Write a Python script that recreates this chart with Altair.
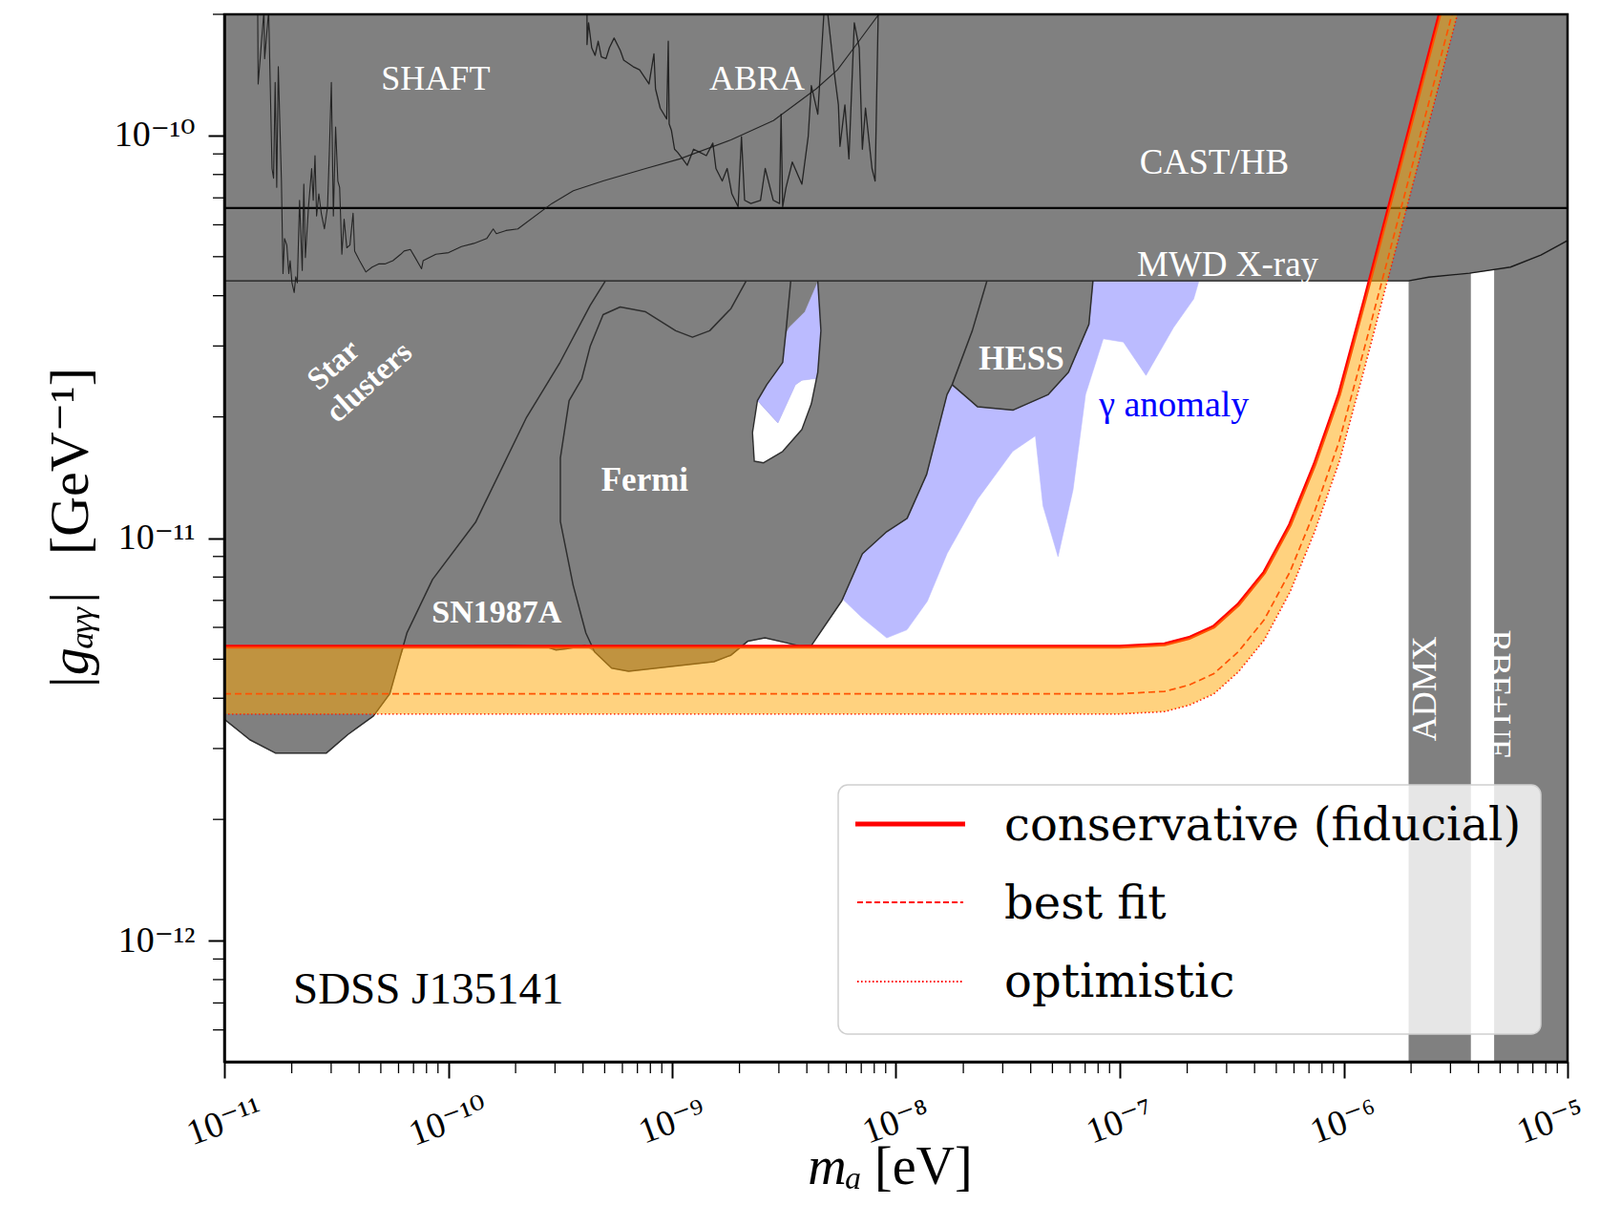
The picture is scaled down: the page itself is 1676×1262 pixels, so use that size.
import numpy as np
import pandas as pd
import altair as alt

# ---------------- layout / style ----------------
W, H = 1407, 1097
SERIF = "Liberation Serif, DejaVu Serif, serif"
WIDE_SERIF = "DejaVu Serif, Liberation Serif, serif"
GRAY = "#808080"
PURPLE = "#bbbbff"
EDGE = "#2e2e2e"

# ---------------- axis ticks ----------------
x_ticks = [1e-11, 1e-10, 1e-9, 1e-8, 1e-7, 1e-6, 1e-5]
x_exps = [-11, -10, -9, -8, -7, -6, -5]
y_ticks = [1e-12, 1e-11, 1e-10]
y_exps = [-12, -11, -10]
x_minor = [k * 10.0 ** e for e in range(-11, -5) for k in range(2, 10)]
y_minor = [k * 10.0 ** e for e in range(-13, -9) for k in range(2, 10)
           if 5e-13 < k * 10.0 ** e <= 2e-10]

# ---------------- data (log10 m_a [eV], log10 g [GeV^-1]) ----------------
# union of grey excluded regions (lower envelope, then closed over the top)
gray_logm = [-11.0, -10.886, -10.772, -10.544, -10.448, -10.334, -10.261, -10.216, -10.198, -9.723,
             -9.564, -9.518, -9.473, -9.386, -9.346, -9.270, -9.194, -9.004, -8.813, -8.737,
             -8.661, -8.585, -8.490, -8.432, -8.378, -8.242, -8.150, -8.041, -7.950, -7.863,
             -7.772, -7.749, -7.635, -7.476, -7.321, -7.229, -7.138, -7.120, -5.711, -5.620,
             -5.438, -5.255, -5.119, -5.0, -5.0, -11.0]
gray_logg = [-11.450, -11.501, -11.534, -11.534, -11.488, -11.442, -11.387, -11.298, -11.270, -11.267,
             -11.270, -11.278, -11.275, -11.267, -11.283, -11.323, -11.331, -11.319, -11.307, -11.291,
             -11.256, -11.248, -11.260, -11.268, -11.267, -11.156, -11.039, -10.984, -10.951, -10.842,
             -10.644, -10.619, -10.674, -10.682, -10.644, -10.588, -10.469, -10.361, -10.361, -10.352,
             -10.342, -10.327, -10.297, -10.261, -9.65, -9.65]

# gamma-ray anomaly region
purple_logm = [-8.243, -8.153, -8.041, -7.951, -7.860, -7.771, -7.636, -7.479, -7.377, -7.343,
               -7.276, -7.209, -7.153, -7.074, -6.984, -6.883, -6.760, -6.670, -6.647, -6.647,
               -7.9, -8.0, -8.3]
purple_logg = [-11.149, -11.197, -11.248, -11.228, -11.157, -11.038, -10.904, -10.785, -10.746, -10.920,
               -11.046, -10.880, -10.643, -10.505, -10.513, -10.596, -10.477, -10.406, -10.362, -10.30,
               -10.30, -10.7, -11.1]

# hole inside the Fermi exclusion
hole_white_logm = [-8.605, -8.619, -8.641, -8.633, -8.591, -8.506, -8.420, -8.378, -8.356, -8.363,
                   -8.420, -8.449, -8.527]
hole_white_logg = [-10.667, -10.659, -10.738, -10.809, -10.813, -10.785, -10.730, -10.667, -10.606, -10.604,
                   -10.608, -10.619, -10.714]
hole_purple_logm = [-8.619, -8.577, -8.506, -8.491, -8.477, -8.406, -8.349, -8.335, -8.349, -8.356,
                    -8.363, -8.420, -8.449, -8.527, -8.605]
hole_purple_logg = [-10.659, -10.619, -10.564, -10.493, -10.477, -10.438, -10.364, -10.485, -10.588, -10.606,
                    -10.604, -10.608, -10.619, -10.714, -10.667]
hole_edge_logm = [-8.470, -8.491, -8.506, -8.577, -8.619, -8.641, -8.633, -8.591, -8.506, -8.420,
                  -8.378, -8.349, -8.335, -8.349]
hole_edge_logg = [-10.362, -10.485, -10.564, -10.619, -10.659, -10.738, -10.809, -10.813, -10.785, -10.730,
                  -10.667, -10.588, -10.485, -10.362]

# outlines
star_logm = [-11.0, -10.886, -10.772, -10.544, -10.448, -10.334, -10.261, -10.184, -10.070, -9.878,
             -9.650, -9.500, -9.366, -9.299]
star_logg = [-11.450, -11.501, -11.534, -11.534, -11.488, -11.442, -11.387, -11.235, -11.103, -10.961,
             -10.700, -10.563, -10.422, -10.362]
sn_logm = [-10.198, -9.723, -9.564, -9.518, -9.473, -9.386]
sn_logg = [-11.270, -11.267, -11.270, -11.278, -11.275, -11.267]
fermi_logm = [-8.670, -8.737, -8.832, -8.909, -8.984, -9.118, -9.232, -9.308, -9.366, -9.403,
              -9.460, -9.499, -9.499, -9.442, -9.385, -9.346, -9.270, -9.194, -9.004, -8.813,
              -8.737, -8.661, -8.585, -8.490, -8.432, -8.378, -8.242, -8.150, -8.041, -7.950,
              -7.863, -7.772, -7.749, -7.659, -7.594]
fermi_logg = [-10.362, -10.430, -10.485, -10.501, -10.485, -10.438, -10.426, -10.445, -10.524, -10.604,
              -10.659, -10.801, -10.959, -11.117, -11.236, -11.283, -11.323, -11.331, -11.319, -11.307,
              -11.291, -11.256, -11.248, -11.260, -11.268, -11.267, -11.156, -11.039, -10.984, -10.951,
              -10.842, -10.644, -10.619, -10.485, -10.362]
hess_logm = [-7.749, -7.635, -7.476, -7.321, -7.229, -7.138, -7.120]
hess_logg = [-10.619, -10.674, -10.682, -10.644, -10.588, -10.469, -10.361]
mwd_logm = [-11.0, -5.711, -5.620, -5.438, -5.255, -5.119, -5.0]
mwd_logg = [-10.361, -10.361, -10.352, -10.342, -10.327, -10.297, -10.261]
cast_logm = [-11.0, -5.0]
cast_logg = [-10.18, -10.18]

# haloscope bands
haloscope_lo = [1.95e-6, 4.7e-6]      # ADMX, RBF+UF
haloscope_hi = [3.7e-6, 1e-5]

# SHAFT and ABRA limit curves
shaft_logm = [-10.851, -10.849, -10.823, -10.820, -10.802, -10.787, -10.780, -10.773, -10.766, -10.759,
              -10.745, -10.738, -10.731, -10.721, -10.712, -10.706, -10.698, -10.688, -10.681, -10.674,
              -10.664, -10.652, -10.645, -10.638, -10.624, -10.610, -10.603, -10.595, -10.588, -10.578,
              -10.567, -10.553, -10.539, -10.531, -10.522, -10.513, -10.503, -10.493, -10.485, -10.475,
              -10.465, -10.453, -10.439, -10.425, -10.418, -10.396, -10.368, -10.340, -10.311, -10.283,
              -10.247, -10.212, -10.197, -10.169, -10.148, -10.119, -10.112, -10.055, -9.998, -9.941,
              -9.885, -9.828, -9.799, -9.785, -9.742, -9.689, -9.537, -9.441, -9.308, -9.118,
              -8.965, -8.737, -8.547, -8.356, -8.261, -8.166, -8.070, -8.040]
shaft_logg = [-9.69, -9.872, -9.69, -9.809, -9.69, -10.082, -10.106, -9.868, -10.129, -9.829,
              -10.113, -10.343, -10.256, -10.272, -10.343, -10.311, -10.366, -10.390, -10.351, -10.366,
              -10.161, -10.335, -10.121, -10.303, -10.177, -10.082, -10.161, -10.050, -10.200, -10.145,
              -10.193, -10.232, -10.177, -10.042, -9.868, -10.200, -9.979, -10.113, -10.129, -10.295,
              -10.208, -10.279, -10.272, -10.193, -10.287, -10.311, -10.339, -10.327, -10.319, -10.319,
              -10.311, -10.295, -10.287, -10.283, -10.303, -10.331, -10.311, -10.295, -10.291, -10.276,
              -10.268, -10.256, -10.232, -10.244, -10.236, -10.232, -10.169, -10.137, -10.113, -10.082,
              -10.058, -10.011, -9.963, -9.884, -9.837, -9.766, -9.694, -9.67]
abra_logm = [-9.380, -9.380, -9.373, -9.359, -9.344, -9.330, -9.316, -9.295, -9.280, -9.259,
             -9.231, -9.216, -9.174, -9.145, -9.103, -9.081, -9.074, -9.053, -9.024, -9.017,
             -9.013, -9.003, -8.989, -8.975, -8.953, -8.932, -8.904, -8.875, -8.847, -8.818,
             -8.804, -8.776, -8.754, -8.733, -8.705, -8.690, -8.676, -8.648, -8.605, -8.584,
             -8.548, -8.520, -8.513, -8.506, -8.491, -8.463, -8.420, -8.392, -8.378, -8.349,
             -8.321, -8.306, -8.278, -8.257, -8.250, -8.228, -8.210, -8.186, -8.164, -8.150,
             -8.136, -8.107, -8.093, -8.079]
abra_logg = [-9.69, -9.774, -9.72, -9.782, -9.801, -9.766, -9.805, -9.809, -9.782, -9.758,
             -9.789, -9.813, -9.829, -9.837, -9.872, -9.797, -9.884, -9.932, -9.959, -9.766,
             -9.971, -9.987, -10.034, -10.042, -10.058, -10.074, -10.034, -10.042, -10.050, -10.019,
             -10.082, -10.113, -10.082, -10.145, -10.177, -10.003, -10.161, -10.169, -10.161, -10.082,
             -10.161, -10.169, -9.947, -10.177, -10.129, -10.066, -10.121, -10.003, -9.876, -9.947,
             -9.69, -9.69, -9.833, -9.924, -10.027, -9.924, -10.058, -9.72, -9.782, -10.034,
             -9.932, -10.082, -10.113, -9.69]

# SDSS J135141 limits
lim_logm = [-11.0, -7.0, -6.94, -6.80, -6.69, -6.58, -6.47, -6.355, -6.24, -6.13,
            -6.02, -5.905, -5.79, -5.68, -5.57, -5.4]
cons_logg = [-11.27, -11.27, -11.268, -11.264, -11.248, -11.22, -11.165, -11.086, -10.967, -10.817,
             -10.643, -10.406, -10.162, -9.929, -9.696, -9.336]
best_logg = [-11.387, -11.387, -11.385, -11.381, -11.365, -11.337, -11.282, -11.203, -11.084, -10.934,
             -10.760, -10.523, -10.279, -10.046, -9.813, -9.453]
opt_logg = [-11.437, -11.437, -11.435, -11.431, -11.415, -11.387, -11.332, -11.253, -11.134, -10.984,
            -10.810, -10.573, -10.329, -10.096, -9.863, -9.503]

# ---------------- scales / axes ----------------
SUP = str.maketrans("-0123456789", "⁻⁰¹²³⁴⁵⁶⁷⁸⁹")


def label_expr(exps):
    s = ""
    for e in exps[:-1]:
        s += f"datum.value < {10.0 ** (e + 0.5):.4e} ? '10{str(e).translate(SUP)}' : "
    return s + f"'10{str(exps[-1]).translate(SUP)}'"


xs = alt.Scale(type="log", domain=[1e-11, 1e-5], nice=False)
ys = alt.Scale(type="log", domain=[5e-13, 2e-10], nice=False)

x_axis = alt.Axis(values=x_ticks, labelExpr=label_expr(x_exps), title=None, grid=False,
                  tickSize=17, tickWidth=2, tickColor="black", domainColor="black", domainWidth=2.5,
                  labelFont=SERIF, labelFontSize=38, labelColor="black", labelAngle=340,
                  labelAlign="center", labelBaseline="middle", labelPadding=46,
                  labelOffset={"condition": {"test": "datum.value > 5e-6", "value": -18}, "value": 0},
                  labelOverlap=False, labelFlush=False, zindex=2)
y_axis = alt.Axis(values=y_ticks, labelExpr=label_expr(y_exps), title=None, grid=False,
                  tickSize=17, tickWidth=2, tickColor="black", domainColor="black", domainWidth=2.5,
                  labelFont=SERIF, labelFontSize=38, labelColor="black", labelAlign="right",
                  labelBaseline="middle", labelPadding=14, labelOverlap=False, labelFlush=False,
                  zindex=2)


def X(f="m"):
    return alt.X(f"{f}:Q", scale=xs, axis=x_axis)


def Y(f="g"):
    return alt.Y(f"{f}:Q", scale=ys, axis=y_axis)


def XD(v):
    return alt.XDatum(v, type="quantitative", scale=xs, axis=x_axis)


def YD(v):
    return alt.YDatum(v, type="quantitative", scale=ys, axis=y_axis)


def frame(logm, logg):
    return pd.DataFrame({"i": np.arange(len(logm)),
                         "m": 10.0 ** np.asarray(logm, dtype=float),
                         "g": 10.0 ** np.asarray(logg, dtype=float)})


def polygon(logm, logg, color, opacity=1.0):
    return alt.Chart(frame(logm, logg)).mark_line(
        fill=color, fillOpacity=opacity, stroke=color, strokeWidth=0.6, clip=True
    ).encode(x=X(), y=Y(), order="i:Q")


def edge(logm, logg, color=EDGE, width=1.5, dash=None, opacity=1.0):
    kw = dict(color=color, strokeWidth=width, clip=True, strokeJoin="round", opacity=opacity)
    if dash:
        kw["strokeDash"] = dash
    return alt.Chart(frame(logm, logg)).mark_line(**kw).encode(x=X(), y=Y(), order="i:Q")


one = pd.DataFrame({"k": [0]})


def label(text, m, g, size, color="white", weight="normal", angle=0, align="center", style="normal"):
    return alt.Chart(one).mark_text(
        text=text, font=SERIF, fontSize=size, color=color, fontWeight=weight, angle=angle,
        align=align, baseline="middle", fontStyle=style
    ).encode(x=XD(m), y=YD(g))


def ptext(text, px, py, size, color="black", align="left", baseline="alphabetic", angle=0,
          style="normal", font=SERIF):
    return alt.Chart(one).mark_text(
        text=text, font=font, fontSize=size, color=color, align=align, baseline=baseline,
        angle=angle, fontStyle=style
    ).encode(x=alt.value(px), y=alt.value(py))


# ---------------- layers ----------------
layers = []
layers.append(polygon(purple_logm, purple_logg, PURPLE))

bars = pd.DataFrame({"m1": haloscope_lo, "m2": haloscope_hi, "g1": [4e-13, 4e-13], "g2": [6e-11, 6e-11]})
layers.append(alt.Chart(bars).mark_rect(color=GRAY, clip=True).encode(
    x=X("m1"), x2=alt.X2("m2"), y=Y("g1"), y2=alt.Y2("g2")))

layers.append(polygon(gray_logm, gray_logg, GRAY))
layers.append(polygon(hole_white_logm, hole_white_logg, "white"))
layers.append(polygon(hole_purple_logm, hole_purple_logg, PURPLE))

layers.append(edge(star_logm, star_logg))
layers.append(edge(sn_logm, sn_logg))
layers.append(edge(fermi_logm, fermi_logg))
layers.append(edge(hess_logm, hess_logg))
layers.append(edge(hole_edge_logm, hole_edge_logg))
layers.append(edge(mwd_logm, mwd_logg, color="#1a1a1a", width=1.4))
layers.append(edge(cast_logm, cast_logg, color="black", width=2.2))
layers.append(edge(shaft_logm, shaft_logg, color="#1a1a1a", width=1.1, opacity=0.9))
layers.append(edge(abra_logm, abra_logg, color="#1a1a1a", width=1.3, opacity=0.9))

lim = pd.DataFrame({"m": 10.0 ** np.asarray(lim_logm), "cons": 10.0 ** np.asarray(cons_logg),
                    "best": 10.0 ** np.asarray(best_logg), "opt": 10.0 ** np.asarray(opt_logg)})
layers.append(alt.Chart(lim).mark_line(color="red", strokeWidth=4, clip=True).encode(x=X(), y=Y("cons")))
layers.append(alt.Chart(lim).mark_line(color="red", strokeWidth=1.7, strokeDash=[7, 4], clip=True).encode(x=X(), y=Y("best")))
layers.append(alt.Chart(lim).mark_line(color="red", strokeWidth=1.7, strokeDash=[1.5, 2.5], clip=True).encode(x=X(), y=Y("opt")))
layers.append(alt.Chart(lim).mark_area(color="orange", opacity=0.5, clip=True).encode(
    x=X(), y=Y("opt"), y2=alt.Y2("cons")))

# region labels
layers += [
    label("SHAFT", 10 ** -10.056, 10 ** -9.861, 36),
    label("ABRA", 10 ** -8.620, 10 ** -9.861, 36),
    label("CAST/HB", 10 ** -6.578, 10 ** -10.068, 37),
    label("MWD X-ray", 10 ** -6.518, 10 ** -10.322, 37),
    label("Star", 10 ** -10.512, 10 ** -10.570, 33, weight="bold", angle=318),
    label("clusters", 10 ** -10.353, 10 ** -10.613, 33, weight="bold", angle=318),
    label("SN1987A", 10 ** -9.783, 10 ** -11.186, 34, weight="bold"),
    label("Fermi", 10 ** -9.122, 10 ** -10.857, 35, weight="bold"),
    label("HESS", 10 ** -7.439, 10 ** -10.555, 35, weight="bold"),
    label("γ anomaly", 10 ** -7.093, 10 ** -10.672, 38, color="#0000ff", align="left"),
    label("ADMX", 10 ** -5.634, 10 ** -11.374, 36, angle=270),
    label("RBF+UF", 10 ** -5.310, 10 ** -11.387, 36, angle=90),
]

# legend (drawn by hand)
layers.append(alt.Chart(one).mark_rect(fill="white", fillOpacity=0.8, stroke="#cfcfcf", strokeWidth=1.5,
                                       cornerRadius=10).encode(
    x=alt.value(643), x2=alt.value(1379), y=alt.value(807), y2=alt.value(1068)))
layers.append(alt.Chart(one).mark_rule(color="red", strokeWidth=5).encode(
    x=alt.value(661), x2=alt.value(776), y=alt.value(848)))
layers.append(alt.Chart(one).mark_rule(color="red", strokeWidth=2, strokeDash=[6, 3]).encode(
    x=alt.value(663), x2=alt.value(774), y=alt.value(930)))
layers.append(alt.Chart(one).mark_rule(color="red", strokeWidth=2, strokeDash=[1.5, 2.5]).encode(
    x=alt.value(663), x2=alt.value(774), y=alt.value(1013)))
layers += [
    ptext("conservative (fiducial)", 817, 865, 48, font=WIDE_SERIF),
    ptext("best fit", 817, 947, 48, font=WIDE_SERIF),
    ptext("optimistic", 817, 1029, 48, font=WIDE_SERIF),
    ptext("SDSS J135141", 72, 1036, 47),
]

# minor ticks
layers.append(alt.Chart(pd.DataFrame({"m": x_minor})).mark_rule(color="black", strokeWidth=1.3).encode(
    x=X(), y=alt.value(H), y2=alt.value(H + 12)))
layers.append(alt.Chart(pd.DataFrame({"g": y_minor})).mark_rule(color="black", strokeWidth=1.3).encode(
    y=Y(), x=alt.value(0), x2=alt.value(-12)))

# frame
layers.append(alt.Chart(one).mark_rect(fillOpacity=0, stroke="black", strokeWidth=2.5).encode(
    x=alt.value(0), x2=alt.value(W), y=alt.value(0), y2=alt.value(H)))

# axis titles
layers += [
    ptext("mₐ", 668, 1225, 56, align="right", style="italic"),
    ptext("[eV]", 681, 1225, 56, align="left"),
    ptext("|gₐᵧᵧ|", -160, 656, 58, align="center", baseline="middle", angle=270, style="italic"),
    ptext("[GeV⁻¹]", -160, 468, 58, align="center", baseline="middle", angle=270),
]

chart = alt.layer(*layers).properties(
    width=W, height=H,
    padding={"left": 227, "top": 7, "right": 26, "bottom": 142},
    autosize=alt.AutoSizeParams(type="none"),
).configure_view(strokeWidth=0)

chart.save("out.html", embed_options={"renderer": "svg", "actions": False})
